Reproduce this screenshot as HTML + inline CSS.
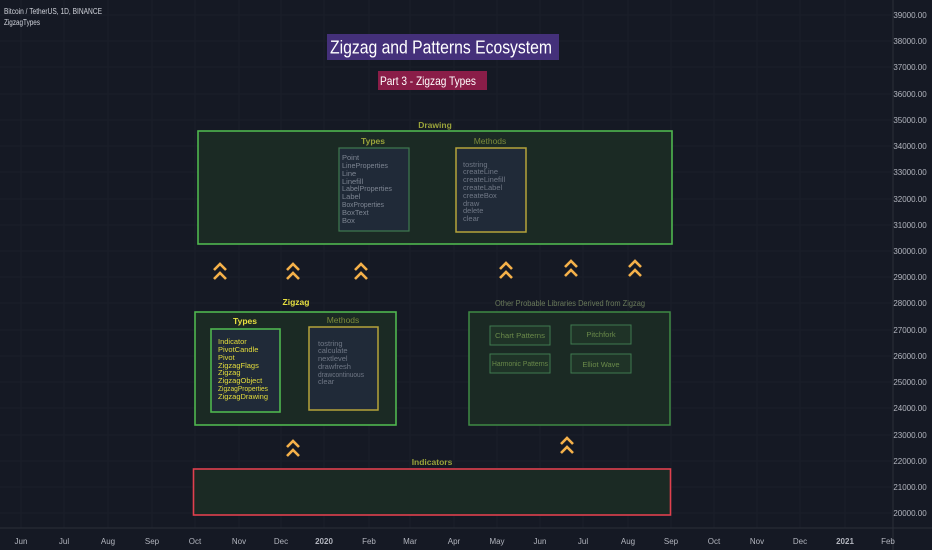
<!DOCTYPE html>
<html><head><meta charset="utf-8"><style>
html,body{margin:0;padding:0;background:#131722;width:932px;height:550px;overflow:hidden}
svg{display:block;font-family:"Liberation Sans",sans-serif}
</style></head><body>
<svg width="932" height="550" viewBox="0 0 932 550" xmlns="http://www.w3.org/2000/svg">
<rect width="932" height="550" fill="#151924"/>
<g stroke="#1a1e2a" stroke-width="1">
<line x1="0" y1="15" x2="893" y2="15"/><line x1="0" y1="41" x2="893" y2="41"/><line x1="0" y1="67" x2="893" y2="67"/><line x1="0" y1="94" x2="893" y2="94"/><line x1="0" y1="120" x2="893" y2="120"/><line x1="0" y1="146" x2="893" y2="146"/><line x1="0" y1="172" x2="893" y2="172"/><line x1="0" y1="199" x2="893" y2="199"/><line x1="0" y1="225" x2="893" y2="225"/><line x1="0" y1="251" x2="893" y2="251"/><line x1="0" y1="277" x2="893" y2="277"/><line x1="0" y1="303" x2="893" y2="303"/><line x1="0" y1="330" x2="893" y2="330"/><line x1="0" y1="356" x2="893" y2="356"/><line x1="0" y1="382" x2="893" y2="382"/><line x1="0" y1="408" x2="893" y2="408"/><line x1="0" y1="435" x2="893" y2="435"/><line x1="0" y1="461" x2="893" y2="461"/><line x1="0" y1="487" x2="893" y2="487"/><line x1="0" y1="513" x2="893" y2="513"/>
<line x1="21" y1="0" x2="21" y2="528"/><line x1="64" y1="0" x2="64" y2="528"/><line x1="108" y1="0" x2="108" y2="528"/><line x1="152" y1="0" x2="152" y2="528"/><line x1="195" y1="0" x2="195" y2="528"/><line x1="239" y1="0" x2="239" y2="528"/><line x1="281" y1="0" x2="281" y2="528"/><line x1="324" y1="0" x2="324" y2="528"/><line x1="369" y1="0" x2="369" y2="528"/><line x1="410" y1="0" x2="410" y2="528"/><line x1="454" y1="0" x2="454" y2="528"/><line x1="497" y1="0" x2="497" y2="528"/><line x1="540" y1="0" x2="540" y2="528"/><line x1="583" y1="0" x2="583" y2="528"/><line x1="628" y1="0" x2="628" y2="528"/><line x1="671" y1="0" x2="671" y2="528"/><line x1="714" y1="0" x2="714" y2="528"/><line x1="757" y1="0" x2="757" y2="528"/><line x1="800" y1="0" x2="800" y2="528"/><line x1="845" y1="0" x2="845" y2="528"/>
</g>
<line x1="893" y1="0" x2="893" y2="550" stroke="#2a2e39"/>
<line x1="0" y1="528" x2="932" y2="528" stroke="#2a2e39"/>
<g fill="#b2b5be" font-size="8" text-anchor="middle">
<text x="910" y="18">39000.00</text><text x="910" y="44">38000.00</text><text x="910" y="70">37000.00</text><text x="910" y="97">36000.00</text><text x="910" y="123">35000.00</text><text x="910" y="149">34000.00</text><text x="910" y="175">33000.00</text><text x="910" y="202">32000.00</text><text x="910" y="228">31000.00</text><text x="910" y="254">30000.00</text><text x="910" y="280">29000.00</text><text x="910" y="306">28000.00</text><text x="910" y="333">27000.00</text><text x="910" y="359">26000.00</text><text x="910" y="385">25000.00</text><text x="910" y="411">24000.00</text><text x="910" y="438">23000.00</text><text x="910" y="464">22000.00</text><text x="910" y="490">21000.00</text><text x="910" y="516">20000.00</text>
</g>
<g fill="#b2b5be" font-size="8" text-anchor="middle">
<text x="21" y="544">Jun</text><text x="64" y="544">Jul</text><text x="108" y="544">Aug</text><text x="152" y="544">Sep</text><text x="195" y="544">Oct</text><text x="239" y="544">Nov</text><text x="281" y="544">Dec</text><text x="324" y="544" font-weight="bold">2020</text><text x="369" y="544">Feb</text><text x="410" y="544">Mar</text><text x="454" y="544">Apr</text><text x="497" y="544">May</text><text x="540" y="544">Jun</text><text x="583" y="544">Jul</text><text x="628" y="544">Aug</text><text x="671" y="544">Sep</text><text x="714" y="544">Oct</text><text x="757" y="544">Nov</text><text x="800" y="544">Dec</text><text x="845" y="544" font-weight="bold">2021</text><text x="888" y="544">Feb</text>
</g>
<text x="4" y="14" fill="#d1d4dc" font-size="8" textLength="98" lengthAdjust="spacingAndGlyphs">Bitcoin / TetherUS, 1D, BINANCE</text>
<text x="4" y="25" fill="#d1d4dc" font-size="8" textLength="36" lengthAdjust="spacingAndGlyphs">ZigzagTypes</text>

<rect x="327" y="34" width="232" height="26" fill="#44307a"/>
<text x="330" y="53.5" fill="#ffffff" font-size="18" textLength="222" lengthAdjust="spacingAndGlyphs">Zigzag and Patterns Ecosystem</text>
<rect x="378" y="71" width="109" height="19" fill="#8a1d48"/>
<text x="380" y="85" fill="#ffffff" font-size="12" textLength="96" lengthAdjust="spacingAndGlyphs">Part 3 - Zigzag Types</text>

<!-- Drawing -->
<text x="435" y="128" fill="#9aa33a" font-size="8.5" font-weight="bold" text-anchor="middle">Drawing</text>
<rect x="198" y="131" width="474" height="113" fill="#1b2a24" stroke="#4fb64f" stroke-width="1.6"/>
<text x="373" y="144" fill="#9aa33a" font-size="8.5" font-weight="bold" text-anchor="middle">Types</text>
<rect x="339" y="148" width="70" height="83" fill="#202a38" stroke="#3f7a4f" stroke-width="1.2"/>
<g fill="#7d8592" font-size="7.5"><text x="342" y="160">Point</text><text x="342" y="168" textLength="46" lengthAdjust="spacingAndGlyphs">LineProperties</text><text x="342" y="176">Line</text><text x="342" y="184">Linefill</text><text x="342" y="191" textLength="50" lengthAdjust="spacingAndGlyphs">LabelProperties</text><text x="342" y="199">Label</text><text x="342" y="207" textLength="42" lengthAdjust="spacingAndGlyphs">BoxProperties</text><text x="342" y="215">BoxText</text><text x="342" y="223">Box</text></g>
<text x="490" y="144" fill="#7b8a3a" font-size="8.5" text-anchor="middle">Methods</text>
<rect x="456" y="148" width="70" height="84" fill="#202a38" stroke="#b5a33a" stroke-width="1.5"/>
<g fill="#6f7785" font-size="7.5"><text x="463" y="167">tostring</text><text x="463" y="174">createLine</text><text x="463" y="182">createLinefill</text><text x="463" y="190">createLabel</text><text x="463" y="198">createBox</text><text x="463" y="206">draw</text><text x="463" y="213">delete</text><text x="463" y="221">clear</text></g>

<!-- chevrons -->
<g fill="none" stroke="#f5b14a" stroke-width="2.6" stroke-linecap="butt">
<path d="M214 270l6-6 6 6M214 279l6-6 6 6"/>
<path d="M287 270l6-6 6 6M287 279l6-6 6 6"/>
<path d="M355 270l6-6 6 6M355 279l6-6 6 6"/>
<path d="M500 269l6-6 6 6M500 278l6-6 6 6"/>
<path d="M565 267l6-6 6 6M565 276l6-6 6 6"/>
<path d="M629 267l6-6 6 6M629 276l6-6 6 6"/>
<path d="M287 447l6-6 6 6M287 456l6-6 6 6"/>
<path d="M561 444l6-6 6 6M561 453l6-6 6 6"/>
</g>

<!-- Zigzag -->
<text x="296" y="305" fill="#e7e040" font-size="8.5" font-weight="bold" text-anchor="middle">Zigzag</text>
<rect x="195" y="312" width="201" height="113" fill="#1b2a24" stroke="#4fb64f" stroke-width="1.6"/>
<text x="245" y="324" fill="#e7e040" font-size="8.5" font-weight="bold" text-anchor="middle">Types</text>
<rect x="211" y="329" width="69" height="83" fill="#202a38" stroke="#4fb64f" stroke-width="1.6"/>
<g fill="#e3dc3c" font-size="7.5"><text x="218" y="344">Indicator</text><text x="218" y="352">PivotCandle</text><text x="218" y="360">Pivot</text><text x="218" y="368">ZigzagFlags</text><text x="218" y="375">Zigzag</text><text x="218" y="383">ZigzagObject</text><text x="218" y="391" textLength="50" lengthAdjust="spacingAndGlyphs">ZigzagProperties</text><text x="218" y="399">ZigzagDrawing</text></g>
<text x="343" y="323" fill="#7b8a3a" font-size="8.5" text-anchor="middle">Methods</text>
<rect x="309" y="327" width="69" height="83" fill="#202a38" stroke="#b5a33a" stroke-width="1.5"/>
<g fill="#6f7785" font-size="7.5"><text x="318" y="346">tostring</text><text x="318" y="353">calculate</text><text x="318" y="361">nextlevel</text><text x="318" y="369">drawfresh</text><text x="318" y="377" textLength="46" lengthAdjust="spacingAndGlyphs">drawcontinuous</text><text x="318" y="384">clear</text></g>

<!-- Other -->
<text x="495" y="306" fill="#6a7a5a" font-size="8" textLength="150" lengthAdjust="spacingAndGlyphs">Other Probable Libraries Derived from Zigzag</text>
<rect x="469" y="312" width="201" height="113" fill="#1b2a24" stroke="#3f8a45" stroke-width="1.5"/>
<g fill="#1f3327" stroke="#3f7a4f" stroke-width="1"><rect x="490" y="326" width="60" height="19"/><rect x="571" y="325" width="60" height="19"/><rect x="490" y="354" width="60" height="19"/><rect x="571" y="354" width="60" height="19"/></g>
<g fill="#6a8a4a" font-size="7.5" text-anchor="middle"><text x="520" y="338" textLength="50" lengthAdjust="spacingAndGlyphs">Chart Patterns</text><text x="601" y="337">Pitchfork</text><text x="520" y="366" textLength="56" lengthAdjust="spacingAndGlyphs">Harmonic Patterns</text><text x="601" y="367">Elliot Wave</text></g>

<!-- Indicators -->
<text x="432" y="465" fill="#9aa33a" font-size="8.5" font-weight="bold" text-anchor="middle">Indicators</text>
<rect x="193.5" y="469" width="477" height="46" fill="#1b2a24" stroke="#e0404e" stroke-width="1.6"/>
</svg>
</body></html>
